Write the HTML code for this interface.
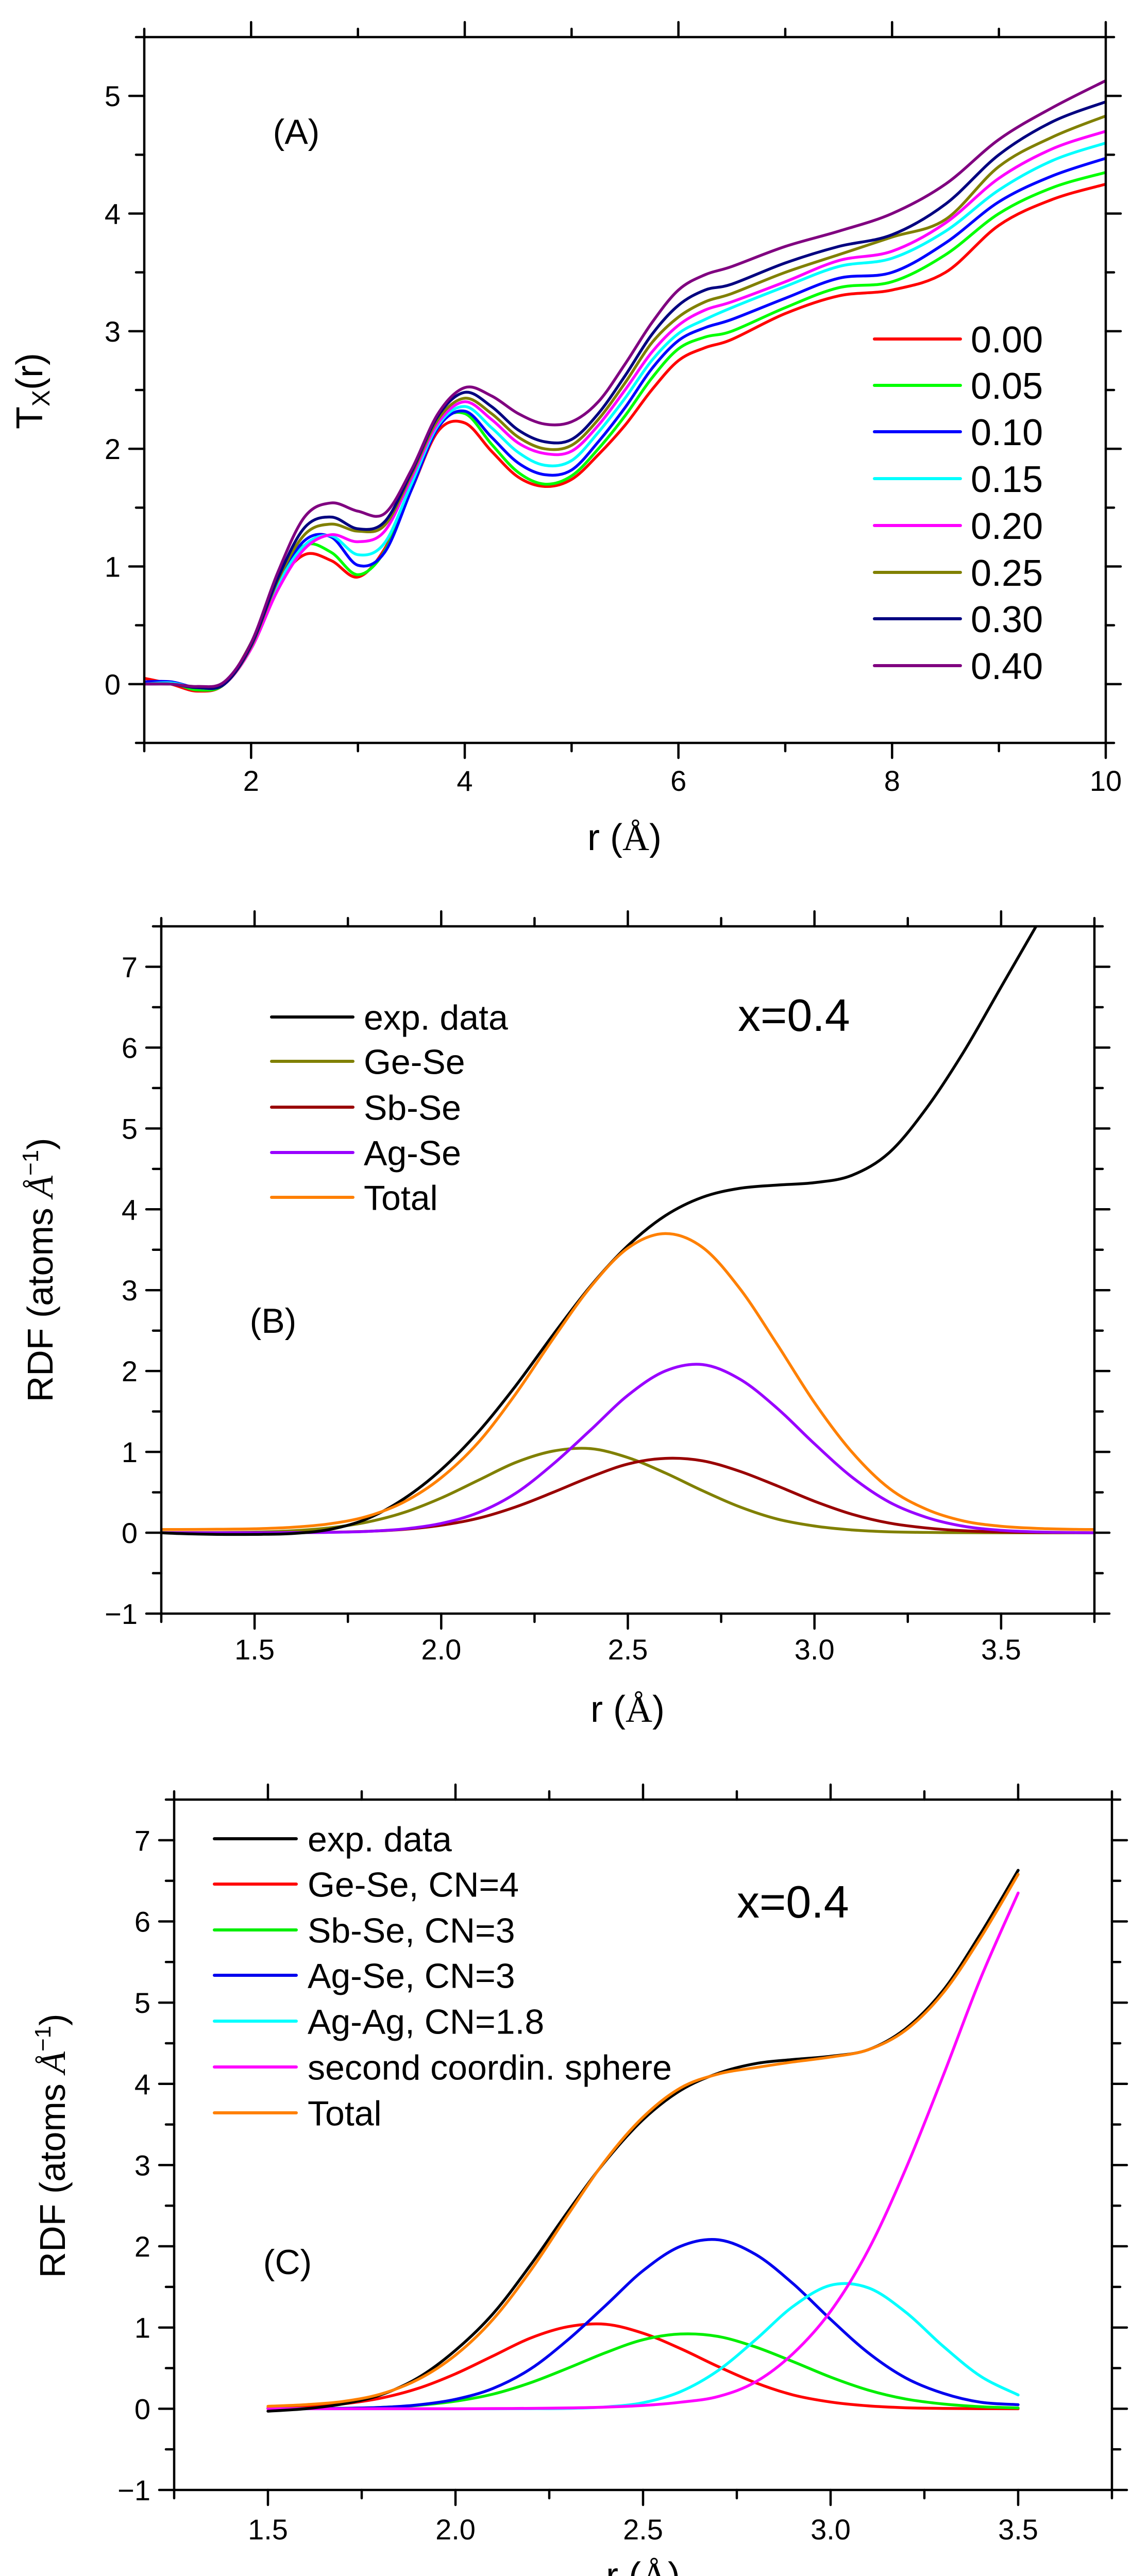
<!DOCTYPE html>
<html><head><meta charset="utf-8">
<style>
html,body{margin:0;padding:0;background:#fff;width:2228px;height:5078px;overflow:hidden;}
svg{display:block;}
text{font-family:"Liberation Sans",Arial,sans-serif;fill:#000;}
</style></head>
<body>
<svg id="fig" width="2228" height="5078" viewBox="0 0 2228 5078" xmlns="http://www.w3.org/2000/svg"></svg>
<script>
// ---------- Panel A data ----------
const rA = [1,1.25,1.5,1.75,2,2.25,2.5,2.75,3,3.25,3.5,3.75,4,4.25,4.5,4.75,5,5.25,5.5,5.75,6,6.25,6.5,7,7.5,8,8.5,9,9.5,10];
const tA000 = [0.05,0.0,-0.06,0.0,0.35,0.85,1.10,1.05,0.91,1.15,1.65,2.15,2.22,1.98,1.76,1.68,1.74,1.95,2.2,2.5,2.75,2.86,2.93,3.15,3.3,3.35,3.5,3.9,4.12,4.25];
const tA005 = [0.0,0.01,-0.05,0.0,0.35,0.88,1.18,1.12,0.93,1.13,1.67,2.2,2.3,2.04,1.8,1.7,1.77,2.0,2.28,2.6,2.85,2.95,3.0,3.2,3.37,3.42,3.65,4.0,4.22,4.35];
const tA010 = [0.02,0.02,-0.03,0.0,0.33,0.86,1.22,1.25,1.01,1.12,1.65,2.18,2.32,2.1,1.88,1.78,1.82,2.06,2.35,2.68,2.92,3.03,3.1,3.28,3.45,3.5,3.75,4.1,4.32,4.47];
const tA015 = [0.0,0.01,-0.03,0.0,0.32,0.84,1.18,1.26,1.1,1.2,1.7,2.2,2.36,2.18,1.97,1.86,1.9,2.14,2.43,2.75,2.98,3.1,3.2,3.38,3.55,3.62,3.85,4.2,4.45,4.6];
const tA020 = [0.0,0.0,-0.03,0.0,0.3,0.8,1.15,1.27,1.21,1.3,1.75,2.22,2.4,2.25,2.05,1.96,1.98,2.2,2.5,2.82,3.05,3.18,3.25,3.42,3.6,3.68,3.92,4.3,4.55,4.7];
const tA025 = [0.0,0.0,-0.03,0.0,0.32,0.88,1.27,1.36,1.3,1.35,1.78,2.25,2.43,2.3,2.1,2.0,2.03,2.25,2.56,2.9,3.12,3.25,3.32,3.5,3.65,3.8,3.95,4.4,4.65,4.83];
const tA030 = [0.0,0.0,-0.03,0.0,0.33,0.9,1.33,1.42,1.32,1.38,1.8,2.28,2.48,2.36,2.16,2.06,2.08,2.3,2.62,2.97,3.22,3.35,3.4,3.58,3.72,3.82,4.08,4.5,4.78,4.95];
const tA040 = [0.0,0.0,-0.02,0.02,0.35,0.95,1.42,1.54,1.47,1.45,1.82,2.3,2.52,2.45,2.3,2.21,2.23,2.4,2.72,3.07,3.35,3.48,3.55,3.72,3.85,4.0,4.25,4.63,4.9,5.13];
const labelsA = ["0.00","0.05","0.10","0.15","0.20","0.25","0.30","0.40"];
const xTicksA = [2,4,6,8,10];
const yTicksA = [0,1,2,3,4,5];

// ---------- Panel B data ----------
const rB = [1.25,1.3,1.4,1.5,1.6,1.7,1.8,1.9,2.0,2.1,2.2,2.3,2.4,2.5,2.6,2.7,2.8,2.9,3.0,3.1,3.2,3.3,3.4,3.5,3.6,3.7,3.75];
const geSeB = [0.0,0.001,0.003,0.008,0.024,0.06,0.13,0.25,0.43,0.65,0.87,1.01,1.04,0.93,0.74,0.52,0.32,0.17,0.083,0.035,0.012,0.004,0.001,0.0,0.0,0.0,0.0];
const sbSeB = [0.0,0.0,0.0,0.0005,0.002,0.006,0.017,0.042,0.093,0.18,0.32,0.50,0.69,0.85,0.92,0.89,0.76,0.58,0.39,0.23,0.12,0.059,0.025,0.01,0.003,0.001,0.0];
const agSeB = [0.0,0.0,0.0,0.0004,0.0014,0.005,0.016,0.047,0.116,0.25,0.49,0.85,1.27,1.70,2.0,2.08,1.90,1.54,1.10,0.69,0.38,0.19,0.08,0.03,0.01,0.002,0.0];
const totalB = [0.04,0.04,0.043,0.049,0.067,0.11,0.20,0.38,0.68,1.12,1.72,2.40,3.04,3.52,3.70,3.53,3.02,2.33,1.61,1.0,0.55,0.29,0.145,0.08,0.053,0.042,0.04];
const rExpB = [1.25,1.3,1.4,1.5,1.6,1.7,1.8,1.9,2.0,2.1,2.2,2.3,2.4,2.5,2.6,2.7,2.8,2.9,3.0,3.1,3.2,3.3,3.4,3.5,3.6];
const expB = [0.0,-0.01,-0.02,-0.02,-0.01,0.04,0.17,0.42,0.78,1.25,1.82,2.45,3.05,3.55,3.92,4.15,4.26,4.3,4.33,4.42,4.7,5.25,5.95,6.75,7.55];
const labelsB = ["exp. data","Ge-Se","Sb-Se","Ag-Se","Total"];
const xTicksBC = [1.5,2.0,2.5,3.0,3.5];
const yTicksBC = [-1,0,1,2,3,4,5,6,7];

// ---------- Panel C data ----------
const rC = [1.5,1.6,1.7,1.8,1.9,2.0,2.1,2.2,2.3,2.4,2.5,2.6,2.7,2.8,2.9,3.0,3.1,3.2,3.3,3.4,3.5];
const expC = [-0.03,0.0,0.06,0.17,0.38,0.72,1.17,1.77,2.43,3.05,3.56,3.92,4.13,4.25,4.3,4.34,4.42,4.68,5.15,5.85,6.63];
const geSeC = [0.008,0.024,0.06,0.13,0.25,0.43,0.65,0.87,1.01,1.04,0.93,0.74,0.52,0.32,0.17,0.083,0.035,0.012,0.004,0.001,0.0];
const sbSeC = [0.0005,0.002,0.006,0.017,0.042,0.093,0.18,0.32,0.50,0.69,0.85,0.92,0.89,0.76,0.58,0.39,0.23,0.12,0.059,0.025,0.01];
const agSeC = [0.0004,0.0014,0.005,0.016,0.047,0.116,0.25,0.49,0.85,1.27,1.70,2.0,2.08,1.90,1.54,1.10,0.69,0.38,0.19,0.08,0.05];
const agAgC = [0.0,0.0,0.0,0.0,0.0,0.0,0.0,0.001,0.005,0.022,0.074,0.21,0.47,0.85,1.26,1.52,1.49,1.19,0.77,0.40,0.17];
const secondC = [0.0,0.0,0.0,0.0,0.0,0.0,0.002,0.005,0.01,0.02,0.04,0.08,0.15,0.33,0.68,1.2,1.95,2.95,4.1,5.3,6.35];
const totalC = [0.03,0.05,0.09,0.18,0.36,0.66,1.10,1.70,2.39,3.06,3.59,3.95,4.12,4.2,4.27,4.33,4.42,4.66,5.12,5.8,6.58];
const labelsC = ["exp. data","Ge-Se, CN=4","Sb-Se, CN=3","Ag-Se, CN=3","Ag-Ag, CN=1.8","second coordin. sphere","Total"];

const NS = "http://www.w3.org/2000/svg";
const svg = document.getElementById('fig');
function el(tag, attrs, parent){
  const e = document.createElementNS(NS, tag);
  for (const k in attrs) e.setAttribute(k, attrs[k]);
  (parent||svg).appendChild(e);
  return e;
}
function smoothPath(pts){
  let d = "M"+pts[0][0].toFixed(1)+","+pts[0][1].toFixed(1);
  for (let i=0;i<pts.length-1;i++){
    const p0=pts[Math.max(0,i-1)], p1=pts[i], p2=pts[i+1], p3=pts[Math.min(pts.length-1,i+2)];
    const c1x=p1[0]+(p2[0]-p0[0])/6, c1y=p1[1]+(p2[1]-p0[1])/6;
    const c2x=p2[0]-(p3[0]-p1[0])/6, c2y=p2[1]-(p3[1]-p1[1])/6;
    d += " C"+c1x.toFixed(1)+","+c1y.toFixed(1)+" "+c2x.toFixed(1)+","+c2y.toFixed(1)+" "+p2[0].toFixed(1)+","+p2[1].toFixed(1);
  }
  return d;
}

function panel(cfg){
  const g = el('g', {});
  
  
  const X = v => cfg.L + (v - cfg.x0)/(cfg.x1 - cfg.x0)*(cfg.R - cfg.L);
  const Y = v => cfg.B - (v - cfg.y0)/(cfg.y1 - cfg.y0)*(cfg.B - cfg.T);
  const clipId = cfg.name + "-clip";
  const cp = el('clipPath', {id: clipId}, g);
  el('rect', {x: cfg.L, y: cfg.T, width: cfg.R-cfg.L, height: cfg.B-cfg.T}, cp);

  const sg = el('g', {'clip-path': 'url(#'+clipId+')'}, g);
  cfg.series.forEach(s => {
    const pts = s.x.map((xv,i)=>[X(xv), Y(s.y[i])]);
    const p = el('path', {d: smoothPath(pts), fill:'none', stroke:s.color, 'stroke-width':5.5, 'stroke-linejoin':'round', 'stroke-linecap':'round'}, sg);
    
    
  });

  const fr = el('rect', {x: cfg.L, y: cfg.T, width: cfg.R-cfg.L, height: cfg.B-cfg.T, fill:'none', stroke:'#000', 'stroke-width':4.5}, g);
  
  

  const tg = el('g', {stroke:'#000', 'stroke-width':4.5, 'stroke-linecap':'round'}, g);
  const MJ = 29, MN = 16;
  cfg.xMajor.forEach(v => {
    el('line', {x1:X(v), x2:X(v), y1:cfg.B, y2:cfg.B+MJ}, tg);
    el('line', {x1:X(v), x2:X(v), y1:cfg.T, y2:cfg.T-MJ}, tg);
  });
  cfg.xMinor.forEach(v => {
    el('line', {x1:X(v), x2:X(v), y1:cfg.B, y2:cfg.B+MN}, tg);
    el('line', {x1:X(v), x2:X(v), y1:cfg.T, y2:cfg.T-MN}, tg);
  });
  cfg.yMajor.forEach(v => {
    el('line', {x1:cfg.L, x2:cfg.L-MJ, y1:Y(v), y2:Y(v)}, tg);
    el('line', {x1:cfg.R, x2:cfg.R+MJ, y1:Y(v), y2:Y(v)}, tg);
  });
  cfg.yMinor.forEach(v => {
    el('line', {x1:cfg.L, x2:cfg.L-MN, y1:Y(v), y2:Y(v)}, tg);
    el('line', {x1:cfg.R, x2:cfg.R+MN, y1:Y(v), y2:Y(v)}, tg);
  });

  cfg.xMajor.forEach(v => {
    const t = el('text', {x:X(v), y:cfg.tickLabelY, 'font-size':56, 'text-anchor':'middle'}, g);
    t.textContent = cfg.xFmt(v);
    
    
  });
  cfg.yMajor.forEach(v => {
    const t = el('text', {x:cfg.L-46, y:Y(v)+20, 'font-size':56, 'text-anchor':'end'}, g);
    t.textContent = v < 0 ? "\u2212" + Math.abs(v) : String(v);
    
    
  });

  cfg.legend.forEach((lg, i) => {
    const y = cfg.legY[i];
    const gl = el('g', {}, g);
    
    
    el('line', {x1:cfg.legX0, x2:cfg.legX1, y1:y, y2:y, stroke:lg.color, 'stroke-width':6, 'stroke-linecap':'round'}, gl);
    const t = el('text', {x:cfg.legTX, y:y+cfg.legFont*0.36, 'font-size':cfg.legFont}, gl);
    t.textContent = lg.label;
  });
  return {g, X, Y};
}

const colA = ['#ff0000','#00ff00','#0000ff','#00ffff','#ff00ff','#808000','#000080','#800080'];
const seriesA = [tA000,tA005,tA010,tA015,tA020,tA025,tA030,tA040];
const pA = panel({
  name:'panel-a', L:280, R:2146, T:72, B:1442, x0:1, x1:10, y0:-0.5, y1:5.5,
  series: seriesA.map((s,i)=>({x:rA, y:s, color:colA[i], dname:'series-x-'+labelsA[i].replace('.','')})),
  xMajor: xTicksA, xMinor:[1,3,5,7,9], yMajor: yTicksA, yMinor:[-0.5,0.5,1.5,2.5,3.5,4.5,5.5],
  xFmt: v=>String(v), tickLabelY:1535,
  legend: labelsA.map((l,i)=>({label:l, color:colA[i]})),
  legY:[658,748,838,929,1020,1111,1201,1292], legX0:1697, legX1:1864, legTX:1884, legFont:72
});

const colB = ['#000000','#808000','#990000','#9900ff','#ff8000'];
const pB = panel({
  name:'panel-b', L:313, R:2124, T:1798, B:3132, x0:1.25, x1:3.75, y0:-1, y1:7.5,
  series: [
    {x:rB, y:geSeB, color:colB[1], dname:'ge-se-curve'},
    {x:rB, y:sbSeB, color:colB[2], dname:'sb-se-curve'},
    {x:rB, y:agSeB, color:colB[3], dname:'ag-se-curve'},
    {x:rExpB, y:expB, color:colB[0], dname:'exp-data-curve'},
    {x:rB, y:totalB, color:colB[4], dname:'total-curve'}
  ],
  xMajor: xTicksBC, xMinor:[1.25,1.75,2.25,2.75,3.25,3.75], yMajor: yTicksBC, yMinor:[-0.5,0.5,1.5,2.5,3.5,4.5,5.5,6.5,7.5],
  xFmt: v=>v.toFixed(1), tickLabelY:3221,
  legend: labelsB.map((l,i)=>({label:l, color:colB[i]})),
  legY:[1974,2060,2149,2237,2324], legX0:527, legX1:685, legTX:706, legFont:68
});

const colC = ['#000000','#ff0000','#00ee00','#0000ee','#00ffff','#ff00ff','#ff8000'];
const pC = panel({
  name:'panel-c', L:338, R:2158, T:3493, B:4833, x0:1.25, x1:3.75, y0:-1, y1:7.5,
  series: [
    {x:rC, y:geSeC, color:colC[1], dname:'ge-se-curve'},
    {x:rC, y:sbSeC, color:colC[2], dname:'sb-se-curve'},
    {x:rC, y:agSeC, color:colC[3], dname:'ag-se-curve'},
    {x:rC, y:agAgC, color:colC[4], dname:'ag-ag-curve'},
    {x:rC, y:secondC, color:colC[5], dname:'second-sphere-curve'},
    {x:rC, y:expC, color:colC[0], dname:'exp-data-curve'},
    {x:rC, y:totalC, color:colC[6], dname:'total-curve'}
  ],
  xMajor: xTicksBC, xMinor:[1.25,1.75,2.25,2.75,3.25,3.75], yMajor: yTicksBC, yMinor:[-0.5,0.5,1.5,2.5,3.5,4.5,5.5,6.5,7.5],
  xFmt: v=>v.toFixed(1), tickLabelY:4929,
  legend: labelsC.map((l,i)=>({label:l, color:colC[i]})),
  legY:[3569,3657,3746,3834,3923,4012,4101], legX0:416, legX1:575, legTX:597, legFont:68
});

function txt(x,y,size,content,name,extra){
  const t = el('text', Object.assign({x:x, y:y, 'font-size':size}, extra||{}));
  t.textContent = content;
  
  
  return t;
}
txt(575,279,68,"(A)","panel-a-label",{'text-anchor':'middle'});
txt(530,2587,68,"(B)","panel-b-label",{'text-anchor':'middle'});
txt(558,4414,68,"(C)","panel-c-label",{'text-anchor':'middle'});
txt(1432,2001,88,"x=0.4","panel-b-composition");
txt(1430,3722,88,"x=0.4","panel-c-composition");

function xTitle(cx, y, name){
  const t = el('text', {x:cx, y:y, 'font-size':72, 'text-anchor':'middle'});
  
  
  const a = el('tspan', {}, t); a.textContent = "r (";
  const b = el('tspan', {'font-family':'"Liberation Serif",serif'}, t); b.textContent = "\u00C5";
  const c = el('tspan', {}, t); c.textContent = ")";
}
xTitle(1212, 1650, "x-axis-title-a");
xTitle(1218, 3342, "x-axis-title-b");
xTitle(1248, 5024, "x-axis-title-c");

(function(){
  const t = el('text', {x:0, y:0, 'font-size':72, 'text-anchor':'middle', transform:'translate(82,759) rotate(-90)'});
  
  
  const a = el('tspan', {}, t); a.textContent = "T";
  const b = el('tspan', {'font-size':48, dy:14}, t); b.textContent = "X";
  const c = el('tspan', {dy:-14}, t); c.textContent = "(r)";
})();
function yTitleRDF(cx, cy, name){
  const t = el('text', {x:0, y:0, 'font-size':70, 'text-anchor':'middle', transform:'translate('+cx+','+cy+') rotate(-90)'});
  
  
  const a = el('tspan', {}, t); a.textContent = "RDF (atoms ";
  const b = el('tspan', {'font-family':'"Liberation Serif",serif', 'font-style':'italic'}, t); b.textContent = "\u00C5";
  const c = el('tspan', {'font-size':44, dy:-28}, t); c.textContent = "\u22121";
  const d = el('tspan', {dy:28}, t); d.textContent = ")";
}
yTitleRDF(102, 2465, "y-axis-title-b");
yTitleRDF(126, 4165, "y-axis-title-c");
</script>
</body></html>
